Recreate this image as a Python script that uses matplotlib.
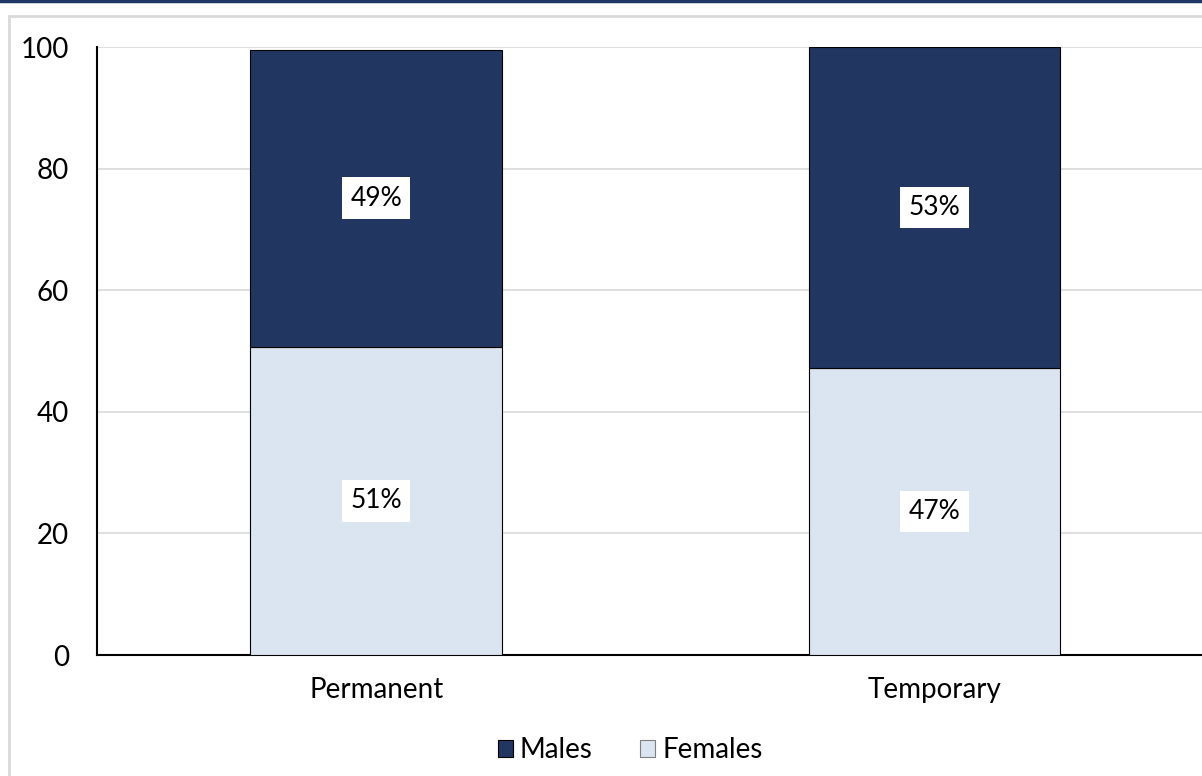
import matplotlib.pyplot as plt
from matplotlib.patches import Rectangle
from matplotlib.lines import Line2D

# data
categories = ['Permanent', 'Temporary']
females = [50.7, 47.2]
males = [48.8, 52.8]
female_labels = ['51%', '47%']
male_labels = ['49%', '53%']

male_color = '#213660'
female_color = '#DBE5F1'

plt.rcParams['font.family'] = ['Lato', 'DejaVu Sans']

fig = plt.figure(figsize=(12.02, 7.76), dpi=100)

# outer frame: dark top rule and a light grey border
fig.add_artist(Line2D([0, 1], [0.9985, 0.9985], color='#1F3864', lw=2.5,
                      transform=fig.transFigure))
fig.add_artist(Rectangle((9 / 1202, -0.05), 1.1, 0.05 + (1 - 16 / 776),
                         transform=fig.transFigure, fill=False,
                         edgecolor='#D9D9D9', lw=2))

ax = fig.add_axes([97 / 1202, 1 - 655 / 776, 0.9289, 0.7835])

x = list(range(len(categories)))
ax.bar(x, females, width=0.451, color=female_color, edgecolor='black',
       linewidth=0.8, label='Females', zorder=3)
ax.bar(x, males, width=0.451, bottom=females, color=male_color,
       edgecolor='black', linewidth=0.8, label='Males', zorder=3)

for i in x:
    ax.text(i, females[i] / 2, female_labels[i], ha='center', va='center',
            fontsize=19, zorder=4,
            bbox=dict(facecolor='white', edgecolor='none', pad=6))
    ax.text(i, females[i] + males[i] / 2, male_labels[i], ha='center',
            va='center', fontsize=19, zorder=4,
            bbox=dict(facecolor='white', edgecolor='none', pad=6))

ax.set_xlim(-0.5, 1.5)
ax.set_ylim(0, 100)
ax.set_yticks([0, 20, 40, 60, 80, 100])
ax.set_xticks(x)
ax.set_xticklabels(categories)
ax.tick_params(axis='both', length=0, labelsize=20)
ax.tick_params(axis='y', pad=20)
ax.tick_params(axis='x', pad=16)
ax.grid(axis='y', color='#D9D9D9', lw=1.2, zorder=0)

for side in ['top', 'right']:
    ax.spines[side].set_visible(False)
ax.spines['left'].set_linewidth(1.5)
ax.spines['bottom'].set_linewidth(1.5)

handles, labels = ax.get_legend_handles_labels()
leg = fig.legend(handles[::-1], labels[::-1], loc='center',
                 bbox_to_anchor=(630 / 1202, 1 - 750 / 776), ncol=2,
                 frameon=False, fontsize=20, handlelength=0.55,
                 handleheight=0.55, handletextpad=0.25, columnspacing=1.7)
leg.legend_handles[1].set_edgecolor('#7F7F7F')

fig.savefig('out.png', dpi=100)
